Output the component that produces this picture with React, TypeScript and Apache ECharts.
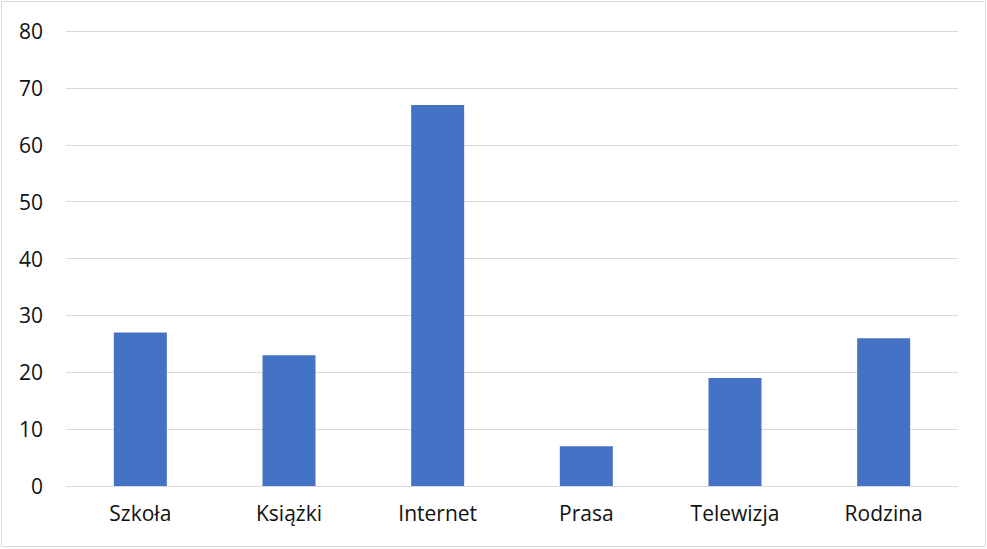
import React, { useEffect, useRef } from "react";
import * as echarts from "echarts";

const categories = ["Szkoła", "Książki", "Internet", "Prasa", "Telewizja", "Rodzina"];
const values = [27, 23, 67, 7, 19, 26];
const yMin = 0;
const yMax = 80;
const yStep = 10;

export default function App() {
  const ref = useRef<HTMLDivElement>(null);
  useEffect(() => {
    document.body.style.margin = "0";
    const chart = echarts.init(ref.current!, null, { renderer: "svg" });
    chart.setOption({
      animation: false,
      backgroundColor: "#ffffff",
      textStyle: { fontFamily: "Open Sans" },
      graphic: [
        {
          type: "rect",
          shape: { x: 1.5, y: 1.5, width: 984, height: 545 },
          style: { fill: "none", stroke: "#d9d9d9", lineWidth: 1 },
        },
      ],
      grid: { left: 66, right: 29, top: 31, bottom: 63 },
      xAxis: {
        type: "category",
        data: categories,
        axisLine: { show: true, lineStyle: { color: "#d9d9d9", width: 1 } },
        axisTick: { show: false },
        axisLabel: { color: "#111", fontSize: 21, margin: 16, fontFamily: "Open Sans" },
      },
      yAxis: {
        type: "value",
        min: yMin,
        max: yMax,
        interval: yStep,
        axisLine: { show: false },
        axisTick: { show: false },
        splitLine: { lineStyle: { color: "#d9d9d9", width: 1 } },
        axisLabel: { color: "#111", fontSize: 21, margin: 23, fontFamily: "Open Sans" },
      },
      series: [
        {
          type: "bar",
          data: values,
          barWidth: 53,
          itemStyle: { color: "#4472c4" },
        },
      ],
    });
    return () => chart.dispose();
  }, []);
  return <div ref={ref} style={{ width: 987, height: 549 }} />;
}
